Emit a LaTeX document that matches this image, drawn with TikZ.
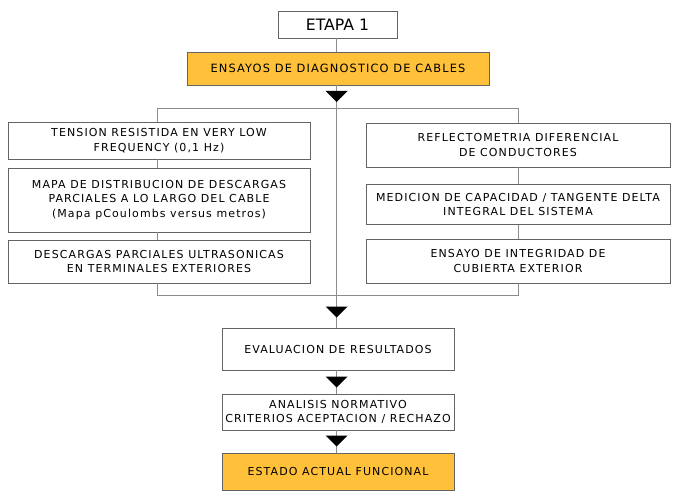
\documentclass[tikz,border=0pt]{standalone}
\usepackage{fontspec}
\setmainfont{DejaVu Sans}[LetterSpace=10]
\newfontfamily\bigfont{DejaVu Sans}
\definecolor{boxorange}{RGB}{255,193,58}
\definecolor{boxline}{RGB}{100,100,100}
\definecolor{conline}{RGB}{140,140,140}
\begin{document}
\begin{tikzpicture}[x=1pt,y=-1pt,
  box/.style={draw=boxline, line width=0.9pt, fill=white, inner sep=0pt, align=center,
    font=\fontsize{11}{14.4}\selectfont},
  orangebox/.style={box, fill=boxorange},
  conn/.style={draw=conline, line width=0.9pt},
  tri/.style={fill=black}
]
\useasboundingbox (0,0) rectangle (676,497);
% nodes
\node[box, minimum width=119pt, minimum height=27pt, font=\bigfont\fontsize{15.7}{16}\selectfont] (etapa) at (337.5,24.5) {ETAPA 1};
\node[orangebox, minimum width=302pt, minimum height=33pt, font=\fontsize{11.4}{14.4}\selectfont] (ensayos) at (338,68.5) {ENSAYOS DE DIAGNOSTICO DE CABLES};
\node[box, minimum width=302pt, minimum height=37pt] (l1) at (159,140.5) {TENSION RESISTIDA EN VERY LOW\\FREQUENCY (0,1 Hz)};
\node[box, minimum width=302pt, minimum height=64pt] (l2) at (159,200) {MAPA DE DISTRIBUCION DE DESCARGAS\\PARCIALES A LO LARGO DEL CABLE\\(Mapa pCoulombs versus metros)};
\node[box, minimum width=302pt, minimum height=43pt] (l3) at (159,261.5) {DESCARGAS PARCIALES ULTRASONICAS\\EN TERMINALES EXTERIORES};
\node[box, minimum width=304pt, minimum height=44pt] (r1) at (518,145) {REFLECTOMETRIA DIFERENCIAL\\DE CONDUCTORES};
\node[box, minimum width=304pt, minimum height=40pt] (r2) at (518,204.5) {MEDICION DE CAPACIDAD / TANGENTE DELTA\\INTEGRAL DEL SISTEMA};
\node[box, minimum width=304pt, minimum height=44pt] (r3) at (518,261) {ENSAYO DE INTEGRIDAD DE\\CUBIERTA EXTERIOR};
\node[box, minimum width=232pt, minimum height=42pt] (eval) at (338,349) {EVALUACION DE RESULTADOS};
\node[box, minimum width=232pt, minimum height=36pt] (anal) at (338,412) {ANALISIS NORMATIVO\\CRITERIOS ACEPTACION / RECHAZO};
\node[orangebox, minimum width=232pt, minimum height=37pt] (estado) at (338,471.5) {ESTADO ACTUAL FUNCIONAL};
% bus coordinates
\coordinate (tl) at (157,108.5);
\coordinate (tr) at (518,108.5);
\coordinate (bl) at (157,295.5);
\coordinate (br) at (518,295.5);
\coordinate (cx) at (336.5,0);
% connectors
\draw[conn] (etapa.south -| cx) -- (ensayos.north -| cx);
\draw[conn] (ensayos.south -| cx) -- (eval.north -| cx);
\draw[conn] (l1.north -| tl) -- (tl) -- (tr) -- (r1.north -| tr);
\draw[conn] (l1.south -| tl) -- (l2.north -| tl);
\draw[conn] (l2.south -| tl) -- (l3.north -| tl);
\draw[conn] (l3.south -| bl) -- (bl) -- (br) -- (r3.south -| br);
\draw[conn] (r1.south -| tr) -- (r2.north -| tr);
\draw[conn] (r2.south -| tr) -- (r3.north -| tr);
\draw[conn] (eval.south -| cx) -- (anal.north -| cx);
\draw[conn] (anal.south -| cx) -- (estado.north -| cx);
% triangles
\coordinate (t1) at (336.5,102);
\coordinate (t2) at (336.5,317.5);
\coordinate (t3) at (336.5,387.5);
\coordinate (t4) at (336.5,446.5);
\foreach \t in {t1,t2,t3,t4}{
  \fill[tri] (\t) -- ++(-11,-11) -- ++(22,0) -- cycle;
}
\end{tikzpicture}
\end{document}
